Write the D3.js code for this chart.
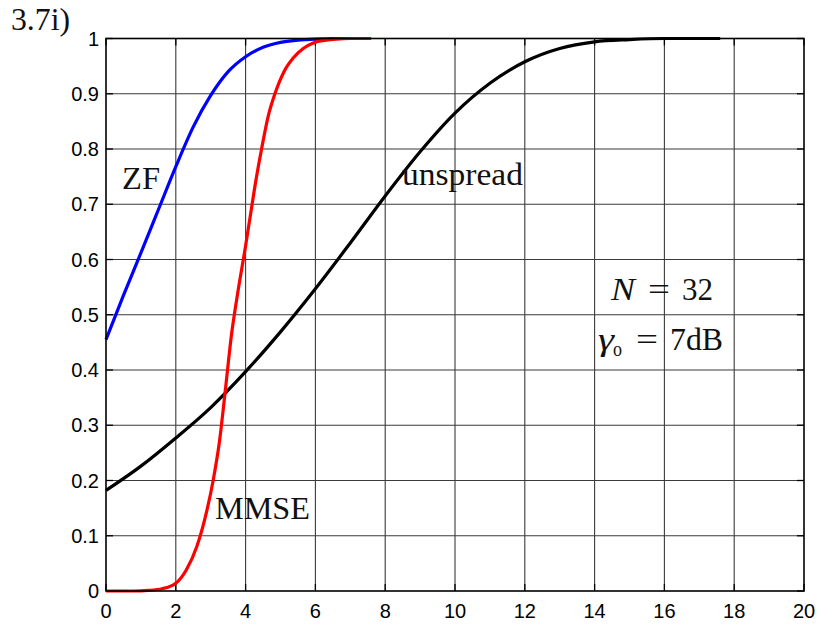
<!DOCTYPE html>
<html>
<head>
<meta charset="utf-8">
<script src="https://cdn.jsdelivr.net/npm/d3@7"></script>
<style>
  html, body { margin: 0; padding: 0; background: #fff; }
  svg { display: block; }
</style>
</head>
<body>
<svg id="chart" width="820" height="626"></svg>
<script>
// Probability curves versus x for three receivers
const xTicks = [0, 2, 4, 6, 8, 10, 12, 14, 16, 18, 20];
const yTicks = [0, 0.1, 0.2, 0.3, 0.4, 0.5, 0.6, 0.7, 0.8, 0.9, 1];
const yTickLabels = ["0", "0.1", "0.2", "0.3", "0.4", "0.5", "0.6", "0.7", "0.8", "0.9", "1"];

const zfX = [0, 0.5, 1, 1.5, 2, 2.5, 3, 3.5, 4, 4.5, 5, 5.5, 6, 6.5, 7.2];
const zfY = [0.455, 0.535, 0.612, 0.690, 0.768, 0.840, 0.897, 0.940, 0.967, 0.984, 0.993, 0.997, 0.999, 1.0, 1.0];

const mmseX = [0, 0.8, 1.2, 1.6, 2.0, 2.3, 2.6, 2.85, 3.07, 3.25, 3.41, 3.6, 3.75, 4.0, 4.13, 4.3, 4.46, 4.65, 4.84, 5.1, 5.37, 5.65, 5.94, 6.3, 6.6, 7.0, 7.6];
const mmseY = [0, 0, 0.001, 0.004, 0.014, 0.038, 0.080, 0.135, 0.200, 0.270, 0.358, 0.466, 0.530, 0.625, 0.677, 0.745, 0.801, 0.860, 0.900, 0.940, 0.965, 0.982, 0.992, 0.997, 0.999, 1.0, 1.0];

const unspreadX = [0, 1, 2, 3, 4, 5, 6, 7, 8, 9, 10, 11, 12, 13, 14, 15, 16, 17, 17.6];
const unspreadY = [0.182, 0.226, 0.277, 0.332, 0.397, 0.469, 0.547, 0.630, 0.715, 0.795, 0.865, 0.919, 0.958, 0.982, 0.994, 0.998, 1.0, 1.0, 1.0];

const svg = d3.select("#chart");
const plotL = 106, plotR = 804, plotT = 38.5, plotB = 591;

const x = d3.scaleLinear().domain([0, 20]).range([plotL, plotR]);
const y = d3.scaleLinear().domain([0, 1]).range([plotB, plotT]);

// grid
const grid = svg.append("g");
grid.selectAll("line.gx").data(xTicks.slice(1, -1)).join("line")
  .attr("x1", d => x(d)).attr("x2", d => x(d))
  .attr("y1", plotT).attr("y2", plotB)
  .attr("stroke", "#3a3a3a").attr("stroke-width", 1.1);
grid.selectAll("line.gy").data(yTicks.slice(1, -1)).join("line")
  .attr("y1", d => y(d)).attr("y2", d => y(d))
  .attr("x1", plotL).attr("x2", plotR)
  .attr("stroke", "#3a3a3a").attr("stroke-width", 1.1);

// inward ticks on all four sides
const tickLen = 7;
const ticks = svg.append("g").attr("stroke", "#000").attr("stroke-width", 1.3);
xTicks.forEach(d => {
  ticks.append("line").attr("x1", x(d)).attr("x2", x(d)).attr("y1", plotB).attr("y2", plotB - tickLen);
  ticks.append("line").attr("x1", x(d)).attr("x2", x(d)).attr("y1", plotT).attr("y2", plotT + tickLen);
});
yTicks.forEach(d => {
  ticks.append("line").attr("y1", y(d)).attr("y2", y(d)).attr("x1", plotL).attr("x2", plotL + tickLen);
  ticks.append("line").attr("y1", y(d)).attr("y2", y(d)).attr("x1", plotR).attr("x2", plotR - tickLen);
});

// tick labels
const labelFont = "'Liberation Sans', Arial, sans-serif";
svg.append("g").selectAll("text").data(xTicks).join("text")
  .attr("x", d => x(d)).attr("y", 618)
  .attr("text-anchor", "middle")
  .attr("font-family", labelFont).attr("font-size", 20)
  .text(d => d);
svg.append("g").selectAll("text").data(yTicks).join("text")
  .attr("x", 99).attr("y", d => y(d) + 7)
  .attr("text-anchor", "end")
  .attr("font-family", labelFont).attr("font-size", 20)
  .text((d, i) => yTickLabels[i]);

// curves
const line = d3.line().x(d => x(d[0])).y(d => y(d[1])).curve(d3.curveMonotoneX);
const series = [
  { xs: unspreadX, ys: unspreadY, color: "#000000" },
  { xs: zfX, ys: zfY, color: "#0000ff" },
  { xs: mmseX, ys: mmseY, color: "#ff0000" }
];
svg.append("g").selectAll("path").data(series).join("path")
  .attr("d", s => line(s.xs.map((v, i) => [v, s.ys[i]])))
  .attr("fill", "none")
  .attr("stroke", s => s.color)
  .attr("stroke-width", 3.2)
  .attr("stroke-linejoin", "round");

// axes box
svg.append("rect")
  .attr("x", plotL).attr("y", plotT)
  .attr("width", plotR - plotL).attr("height", plotB - plotT)
  .attr("fill", "none").attr("stroke", "#000").attr("stroke-width", 1.6);

// annotations
const serif = "'Liberation Serif', 'DejaVu Serif', serif";
function label(tx, ty, str, width, size) {
  const t = svg.append("text").attr("x", tx).attr("y", ty)
    .attr("font-family", serif).attr("font-size", size || 32)
    .attr("fill", "#111").text(str);
  if (width) t.attr("textLength", width).attr("lengthAdjust", "spacingAndGlyphs");
  return t;
}
label(11, 30, "3.7i)", 59);
label(122, 189, "ZF", 38);
label(402, 185, "unspread", 121);
label(215, 519, "MMSE", 95);

// N = 32
label(611, 300, "N", 24).attr("font-style", "italic");
label(648, 300, "=", 22);
label(682, 300, "32", 31);

// gamma_o = 7dB
label(598, 350, "γ", 16).attr("font-style", "italic");
label(613, 356, "o", 9, 20);
label(636, 350, "=", 22);
label(670, 350, "7dB", 53);
</script>
</body>
</html>
